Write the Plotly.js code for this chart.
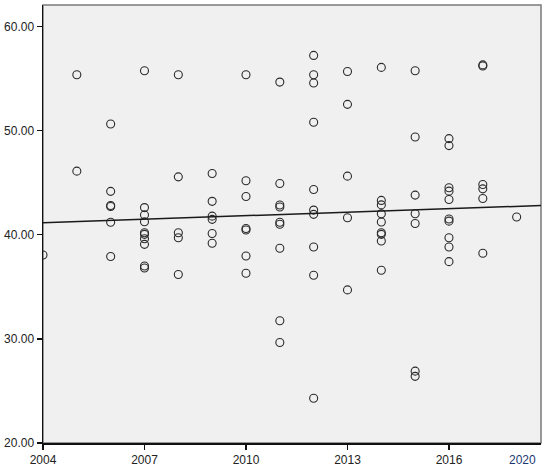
<!DOCTYPE html>
<html>
<head>
<meta charset="utf-8">
<script src="https://cdn.plot.ly/plotly-3.0.1.min.js"></script>
<style>html,body{margin:0;padding:0;background:#fff;}#chart{width:550px;height:472px;}</style>
</head>
<body>
<div id="chart"></div>
<script>
// Scatter data (year, value)
const years = [
  2004,
  2005, 2005,
  2006, 2006, 2006, 2006, 2006, 2006,
  2007, 2007, 2007, 2007, 2007, 2007, 2007, 2007, 2007, 2007,
  2008, 2008, 2008, 2008, 2008,
  2009, 2009, 2009, 2009, 2009, 2009,
  2010, 2010, 2010, 2010, 2010, 2010, 2010,
  2011, 2011, 2011, 2011, 2011, 2011, 2011, 2011, 2011,
  2012, 2012, 2012, 2012, 2012, 2012, 2012, 2012, 2012, 2012,
  2013, 2013, 2013, 2013, 2013,
  2014, 2014, 2014, 2014, 2014, 2014, 2014, 2014, 2014,
  2015, 2015, 2015, 2015, 2015, 2015, 2015,
  2016, 2016, 2016, 2016, 2016, 2016, 2016, 2016, 2016, 2016,
  2017, 2017, 2017, 2017, 2017, 2017,
  2018
];
const values = [
  38.05,
  55.35, 46.1,
  50.63, 44.16, 42.8, 42.7, 41.2, 37.9,
  55.74, 42.6, 41.9, 41.24, 40.19, 40.03, 39.61, 39.07, 37.0, 36.8,
  55.35, 45.55, 40.19, 39.7, 36.17,
  45.87, 43.2, 41.78, 41.47, 40.12, 39.17,
  55.35, 45.17, 43.67, 40.6, 40.45, 37.95, 36.29,
  54.65, 44.91, 42.85, 42.65, 41.2, 41.0, 38.69, 31.73, 29.65,
  57.21, 55.35, 54.56, 50.79, 44.34, 42.36, 41.95, 38.82, 36.1, 24.29,
  55.67, 52.51, 45.62, 41.62, 34.7,
  56.06, 43.29, 42.86, 42.0, 41.22, 40.19, 40.03, 39.39, 36.58,
  55.74, 49.38, 43.8, 42.01, 41.08, 26.9, 26.4,
  49.22, 48.55, 44.5, 44.18, 43.38, 41.5, 41.3, 39.71, 38.82, 37.41,
  56.3, 56.2, 44.82, 44.4, 43.48, 38.21,
  41.69
];
// Fit line endpoints
const fitX = [2004, 2018.72];
const fitY = [41.15, 42.8];
// Axis ticks
const xTicks = [2004, 2007, 2010, 2013, 2016];
const xTickText = ['2004', '2007', '2010', '2013', '2016'];
const yTicks = [20, 30, 40, 50, 60];
const extraLabel = '2020';

const font = {family: '"Liberation Sans", Arial, sans-serif', size: 12, color: '#222'};

const traces = [
  {
    x: years, y: values, type: 'scatter', mode: 'markers',
    marker: {symbol: 'circle-open', size: 8, color: '#2a2a2a', line: {width: 1.1, color: '#2a2a2a'}},
    hoverinfo: 'x+y'
  },
  {
    x: fitX, y: fitY, type: 'scatter', mode: 'lines',
    line: {color: '#1a1a1a', width: 1.5}, hoverinfo: 'skip'
  }
];

const layout = {
  width: 550, height: 472,
  margin: {l: 43, r: 9, t: 5, b: 29, pad: 0},
  paper_bgcolor: '#ffffff',
  plot_bgcolor: '#f0f0f0',
  showlegend: false,
  font: font,
  xaxis: {
    range: [2004, 2018.72], tickvals: xTicks, ticktext: xTickText,
    showgrid: false, zeroline: false, showline: true, linecolor: '#111', linewidth: 1.5,
    ticks: 'outside', ticklen: 5, tickcolor: '#111', tickwidth: 1.5,
    tickfont: font
  },
  yaxis: {
    range: [20, 62.05], tickvals: yTicks, tickformat: '.2f',
    showgrid: false, zeroline: false, showline: true, linecolor: '#111', linewidth: 1.5,
    ticks: 'outside', ticklen: 5, tickcolor: '#111', tickwidth: 1.5,
    tickfont: font
  },
  shapes: [
    {type: 'rect', xref: 'paper', yref: 'paper', x0: 0, x1: 1, y0: 0, y1: 1,
     line: {color: '#7a7a7a', width: 1.5}, fillcolor: 'rgba(0,0,0,0)', layer: 'below'}
  ],
  annotations: [
    {text: extraLabel, xref: 'x', yref: 'paper', x: 2018.16, y: 0, yanchor: 'top', yshift: -8,
     showarrow: false, font: {family: font.family, size: 12, color: '#1c3870'}}
  ]
};

Plotly.newPlot('chart', traces, layout, {displayModeBar: false, staticPlot: true});
</script>
</body>
</html>
